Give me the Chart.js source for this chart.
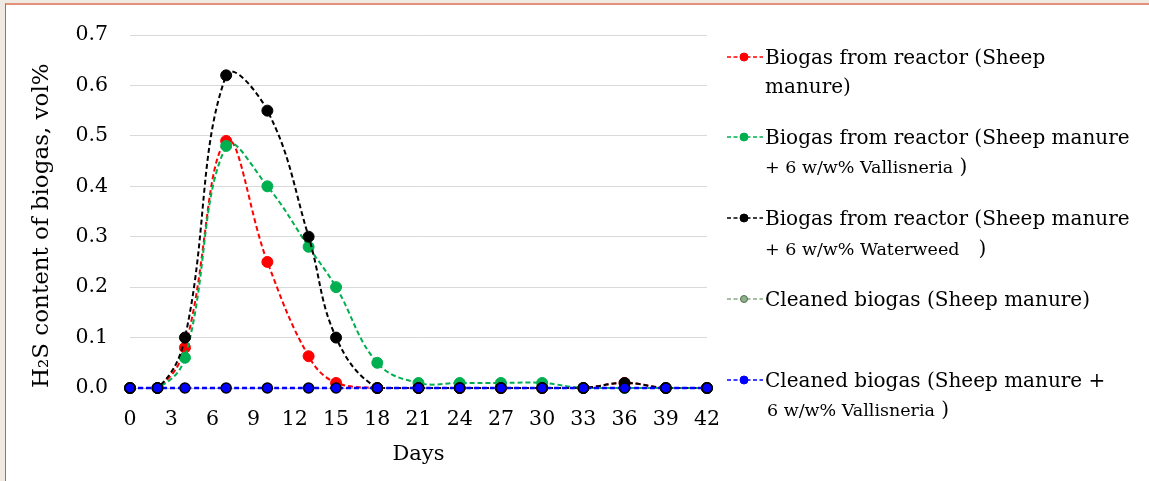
<!DOCTYPE html>
<html><head><meta charset="utf-8">
<script src="https://cdn.jsdelivr.net/npm/chart.js@4"></script>
<style>
html,body{margin:0;padding:0;background:#efebe2;width:1149px;height:481px;overflow:hidden;}
#frame{position:absolute;left:5px;top:3px;width:1144px;height:478px;background:#fff;border-top:2px solid #e2907a;border-left:1px solid #c9603f;box-sizing:border-box;}
#c{position:absolute;left:0;top:0;}
.leg{position:absolute;left:727px;font-family:"DejaVu Serif",serif;color:#000;white-space:nowrap;}
.leg svg{position:absolute;left:0;}
.leg .t{position:absolute;left:38px;font-size:20px;line-height:29px;}
.leg .s{font-size:17.5px;}
</style></head>
<body>
<div id="frame"></div>
<canvas id="c" width="1149" height="481"></canvas>
<div id="legend"></div>
<script>
const days = [0, 2, 4, 7, 10, 13, 15, 18, 21, 24, 27, 30, 33, 36, 39, 42];
const rawSheep = [0, 0, 0.08, 0.49, 0.25, 0.063, 0.01, 0, 0, 0, 0, 0, 0, 0.01, 0, 0];
const rawVallisneria = [0, 0, 0.06, 0.48, 0.40, 0.28, 0.20, 0.05, 0.01, 0.01, 0.01, 0.01, 0, 0, 0, 0];
const rawWaterweed = [0, 0, 0.10, 0.62, 0.55, 0.30, 0.10, 0, 0, 0, 0, 0, 0, 0.01, 0, 0];
const cleanedSheep = [0, 0, 0, 0, 0, 0, 0, 0, 0, 0, 0, 0, 0, 0, 0, 0];
const cleanedVallisneria = [0, 0, 0, 0, 0, 0, 0, 0, 0, 0, 0, 0, 0, 0, 0, 0];
const xTicks = [0, 3, 6, 9, 12, 15, 18, 21, 24, 27, 30, 33, 36, 39, 42];
const yTicks = [0, 0.1, 0.2, 0.3, 0.4, 0.5, 0.6, 0.7];

// [first line, second line (small part), second line (large part)]
const seriesNames = [
  ['Biogas from reactor (Sheep', '', 'manure)'],
  ['Biogas from reactor (Sheep manure', '+ 6 w/w% Vallisneria', ' )'],
  ['Biogas from reactor (Sheep manure', '+ 6 w/w% Waterweed', '&nbsp;&nbsp; )'],
  ['Cleaned biogas (Sheep manure)', '', ''],
  ['Cleaned biogas (Sheep manure +', '6 w/w% Vallisneria', ' )']
];
const styles = [
  {line:'#ff0000', fill:'#ff0000', stroke:'#ff0000', r:5.5, bw:1, lw:2},
  {line:'#00b050', fill:'#00b050', stroke:'#00b050', r:5.5, bw:1, lw:2},
  {line:'#000000', fill:'#000000', stroke:'#000000', r:5.5, bw:1, lw:2},
  {line:'#8aa886', fill:'#8fb08c', stroke:'#4f6f4c', r:4, bw:1, lw:2},
  {line:'#0000ff', fill:'#0000ff', stroke:'#000000', r:5, bw:1.5, lw:2.5}
];
const values = [rawSheep, rawVallisneria, rawWaterweed, cleanedSheep, cleanedVallisneria];

function mk(i){
  const s = styles[i];
  return {
    label: seriesNames[i][0],
    data: days.map((d, k) => ({x: d, y: values[i][k]})),
    borderColor: s.line, borderWidth: s.lw, borderDash: [5, 3],
    pointBackgroundColor: s.fill, pointBorderColor: s.stroke, pointBorderWidth: s.bw,
    pointRadius: s.r, tension: 0.4, fill: false, clip: false
  };
}
// reverse so that later series are drawn on top
const datasets = [4, 3, 2, 1, 0].map(mk);

Chart.defaults.font.family = "'DejaVu Serif', serif";
Chart.defaults.font.size = 20.5;
Chart.defaults.color = '#000';

new Chart(document.getElementById('c'), {
  type: 'line',
  data: {datasets},
  options: {
    responsive: false, animation: false, devicePixelRatio: 1,
    layout: {padding: {left: 8, top: 35, right: 442, bottom: 13}},
    plugins: {legend: {display: false}, tooltip: {enabled: false}},
    scales: {
      x: {
        type: 'linear', min: 0, max: 42,
        afterBuildTicks: sc => { sc.ticks = xTicks.map(v => ({value: v})); },
        afterFit: sc => { sc.height = 80; },
        grid: {display: false},
        border: {display: true, color: '#bfbfbf'},
        ticks: {padding: 11, maxRotation: 0, autoSkip: false},
        title: {display: true, text: 'Days', font: {size: 21}, padding: {top: 0, bottom: 1}}
      },
      y: {
        min: 0, max: 0.7,
        afterBuildTicks: sc => { sc.ticks = yTicks.map(v => ({value: v})); },
        afterFit: sc => { sc.width = 122; },
        grid: {color: '#d9d9d9', lineWidth: 1, drawTicks: false},
        border: {display: false},
        ticks: {padding: 22, callback: v => Number(v).toFixed(1)},
        title: {display: true, text: 'H\u2082S content of biogas, vol%', align: 'start', font: {size: 23}, padding: {top: 20, bottom: 0}}
      }
    }
  }
});

// legend
const legY = [[57, 86], [137, 166], [218, 248], [299, null], [380, 409]];
let html = '';
[0, 1, 2, 3, 4].forEach(i => {
  const s = styles[i];
  const [y1, y2] = legY[i];
  html += `<div class="leg" style="top:${y1 - 8}px">` +
    `<svg width="36" height="16" style="top:0"><line x1="0" y1="8" x2="36" y2="8" stroke="${s.line}" stroke-width="1.5" stroke-dasharray="4,2.5"/>` +
    `<circle cx="17" cy="8" r="${i === 3 ? 3.5 : 4}" fill="${s.fill}" stroke="${i===3 ? s.stroke : s.fill}" stroke-width="1"/></svg></div>`;
  html += `<div class="leg" style="top:${y1 - 14.5}px"><div class="t">${seriesNames[i][0]}</div></div>`;
  if (y2 !== null) {
    html += `<div class="leg" style="top:${y2 - 14.5}px"><div class="t" style="left:${i===4?40:38}px"><span class="s">${seriesNames[i][1]}</span>${seriesNames[i][2]}</div></div>`;
  }
});
document.getElementById('legend').innerHTML = html;
</script>
</body></html>
